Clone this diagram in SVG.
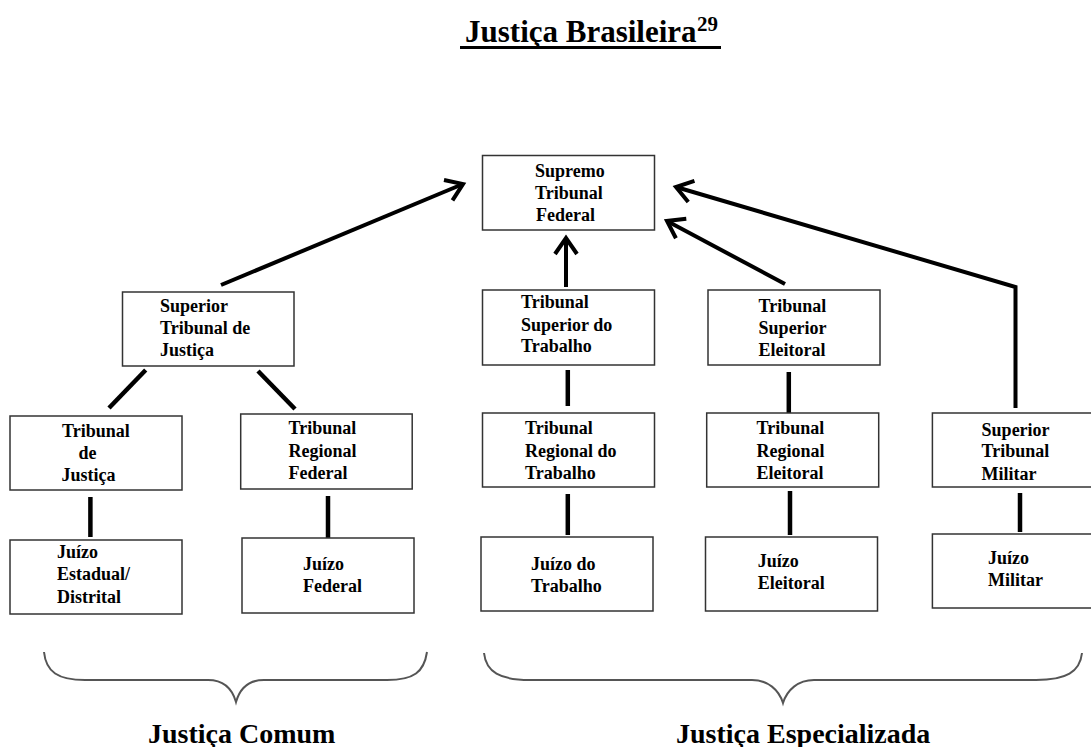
<svg xmlns="http://www.w3.org/2000/svg" width="1091" height="747" viewBox="0 0 1091 747">
<style>
.box{fill:#fff;stroke:#333;stroke-width:1.5}
.t{font-family:"Liberation Serif","Times New Roman",serif;font-weight:bold;font-size:18px;fill:#000}
.con{stroke:#000;stroke-width:4.5;fill:none}
.arr{stroke:#000;stroke-width:4;fill:none;marker-end:url(#ah)}
.brace{stroke:#555;stroke-width:2;fill:none}
.lbl{font-family:"Liberation Serif","Times New Roman",serif;font-weight:bold;font-size:28px;fill:#000}
</style>
<defs>
<marker id="ah" markerUnits="userSpaceOnUse" orient="auto" markerWidth="40" markerHeight="40" viewBox="-20 -20 40 40" refX="0" refY="0" overflow="visible">
<path d="M-16,-11 L0,0 L-16,11" fill="none" stroke="#000" stroke-width="4" stroke-linejoin="miter"/>
</marker>
</defs>
<rect width="1091" height="747" fill="#fff"/>
<g id="title">
<text x="465" y="42" class="lbl" style="font-size:31px">Justiça Brasileira</text>
<text x="697" y="31" class="lbl" style="font-size:21px">29</text>
<rect x="460" y="46" width="261" height="3" fill="#000"/>
</g>
<g id="connectors">
<line class="arr" x1="221" y1="285" x2="463" y2="184"/>
<line class="arr" x1="566" y1="287" x2="566" y2="238"/>
<line class="arr" x1="785" y1="284" x2="667" y2="221"/>
<polyline class="arr" points="1015.5,408 1015.5,287 676,187"/>
<line class="con" x1="145.7" y1="370" x2="109" y2="408"/>
<line class="con" x1="258" y1="371" x2="295" y2="409"/>
<line class="con" x1="90.4" y1="497" x2="90.4" y2="537"/>
<line class="con" x1="328" y1="496" x2="328" y2="538"/>
<line class="con" x1="567.8" y1="370" x2="567.8" y2="406"/>
<line class="con" x1="788.8" y1="372" x2="788.8" y2="413"/>
<line class="con" x1="567.8" y1="494" x2="567.8" y2="535"/>
<line class="con" x1="790" y1="491" x2="790" y2="535"/>
<line class="con" x1="1020" y1="493" x2="1020" y2="532"/>
</g>
<g id="stf"><rect class="box" x="482.5" y="155.5" width="172" height="74.5"/>
<text class="t" x="535" y="177">Supremo</text><text class="t" x="535" y="199">Tribunal</text><text class="t" x="536" y="221">Federal</text></g>
<g id="stj"><rect class="box" x="122.5" y="292" width="171.5" height="74"/>
<text class="t" x="160" y="312">Superior</text><text class="t" x="160" y="334">Tribunal de</text><text class="t" x="160" y="356">Justiça</text></g>
<g id="tst"><rect class="box" x="482.5" y="290" width="172" height="75"/>
<text class="t" x="521" y="308">Tribunal</text><text class="t" x="521" y="331">Superior do</text><text class="t" x="521" y="352">Trabalho</text></g>
<g id="tse"><rect class="box" x="708" y="290" width="172" height="75"/>
<text class="t" x="758.6" y="312">Tribunal</text><text class="t" x="758.6" y="334">Superior</text><text class="t" x="758.6" y="356">Eleitoral</text></g>
<g id="tj"><rect class="box" x="10" y="416" width="172" height="74"/>
<text class="t" x="62" y="437">Tribunal</text><text class="t" x="78.6" y="459">de</text><text class="t" x="61.4" y="481">Justiça</text></g>
<g id="trf"><rect class="box" x="240.7" y="414" width="171.5" height="75"/>
<text class="t" x="288.6" y="434">Tribunal</text><text class="t" x="288.6" y="457">Regional</text><text class="t" x="288.6" y="479">Federal</text></g>
<g id="trt"><rect class="box" x="482.5" y="413" width="172" height="74"/>
<text class="t" x="525" y="434">Tribunal</text><text class="t" x="525" y="457">Regional do</text><text class="t" x="525" y="479">Trabalho</text></g>
<g id="tre"><rect class="box" x="706.7" y="413" width="172" height="74"/>
<text class="t" x="756.6" y="434">Tribunal</text><text class="t" x="756.6" y="457">Regional</text><text class="t" x="756.6" y="479">Eleitoral</text></g>
<g id="stm"><rect class="box" x="932.4" y="413" width="172" height="74"/>
<text class="t" x="981.6" y="436">Superior</text><text class="t" x="981.6" y="457">Tribunal</text><text class="t" x="981.6" y="480">Militar</text></g>
<g id="je"><rect class="box" x="10" y="540" width="172" height="74"/>
<text class="t" x="57" y="558">Juízo</text><text class="t" x="57" y="580">Estadual/</text><text class="t" x="57" y="603">Distrital</text></g>
<g id="jf"><rect class="box" x="242" y="538" width="172" height="75"/>
<text class="t" x="303" y="570">Juízo</text><text class="t" x="303" y="592">Federal</text></g>
<g id="jt"><rect class="box" x="481" y="537" width="172" height="74"/>
<text class="t" x="531" y="570">Juízo do</text><text class="t" x="531" y="592">Trabalho</text></g>
<g id="jel"><rect class="box" x="705.5" y="537" width="172" height="74"/>
<text class="t" x="757.8" y="567">Juízo</text><text class="t" x="757.8" y="589">Eleitoral</text></g>
<g id="jm"><rect class="box" x="932.4" y="534" width="172" height="74"/>
<text class="t" x="988" y="564">Juízo</text><text class="t" x="988" y="586">Militar</text></g>
<g id="brace-comum">
<path class="brace" d="M44,652 C46,672 58,680 85,680 L208,680 C224,680 232,688 236,702 C240,688 248,680 264,680 L387,680 C414,680 424,672 427,652"/>
<text class="lbl" x="148" y="743">Justiça Comum</text>
</g>
<g id="brace-especializada">
<path class="brace" d="M484,653 C486,672 500,680 530,680 L752,680 C768,680 779,690 783,703 C787,690 798,680 814,680 L1036,680 C1066,680 1080,672 1082,653"/>
<text class="lbl" x="676" y="743">Justiça Especializada</text>
</g>
</svg>
